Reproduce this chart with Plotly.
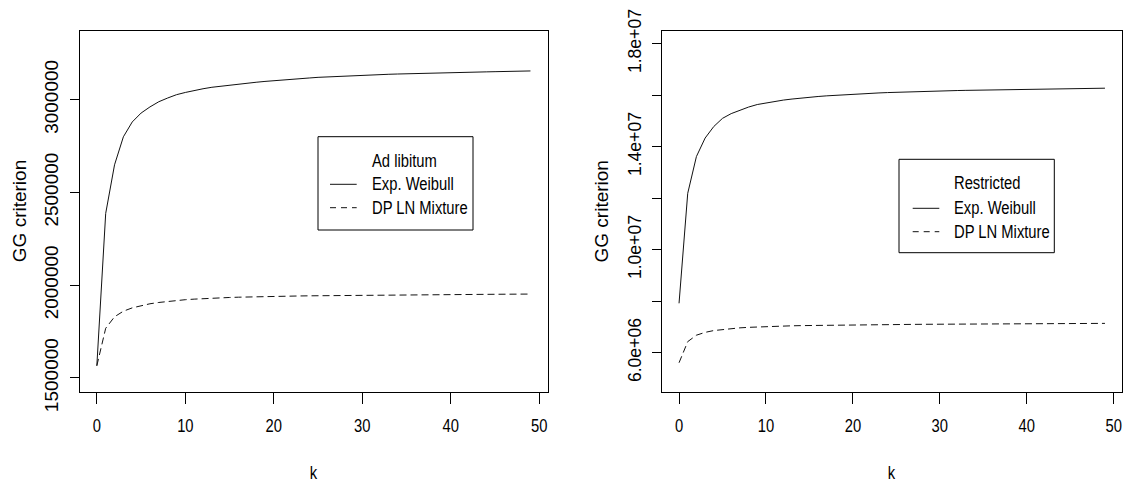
import plotly.graph_objects as go

# ---------------- data ----------------
k = list(range(50))

adlib_weibull = [1566000, 2387000, 2649000, 2800000, 2880000, 2928000, 2961000, 2989000, 3009000, 3027000,
                 3039000, 3050000, 3059000, 3067000, 3073000, 3079000, 3084500, 3089500, 3094000, 3098500,
                 3103000, 3107000, 3110500, 3114000, 3117000, 3120500, 3123000, 3125500, 3128000, 3130000,
                 3132000, 3134000, 3135500, 3137000, 3138500, 3140000, 3141000, 3142500, 3143500, 3144500,
                 3146000, 3147000, 3148000, 3149000, 3150000, 3151000, 3152000, 3153000, 3154000, 3155000]

adlib_dpln = [1566000, 1768000, 1830000, 1860000, 1878000, 1891000, 1900000, 1907000, 1913000, 1918000,
              1922000, 1925000, 1928000, 1930000, 1932000, 1934000, 1935500, 1937000, 1938000, 1939000,
              1940000, 1940800, 1941500, 1942200, 1942900, 1943500, 1944100, 1944700, 1945200, 1945700,
              1946200, 1946600, 1947000, 1947400, 1947800, 1948200, 1948500, 1948800, 1949100, 1949400,
              1949700, 1950000, 1950300, 1950600, 1950900, 1951200, 1951500, 1951800, 1952100, 1952400]

restr_weibull = [7918000, 12190000, 13618000, 14335000, 14785000, 15101000, 15285000, 15427000, 15540000, 15638000,
                 15700000, 15762000, 15810000, 15851000, 15890000, 15920000, 15950000, 15975000, 15998000, 16018000,
                 16036000, 16055000, 16072000, 16088000, 16102000, 16115000, 16127000, 16138000, 16148000, 16157000,
                 16166000, 16174000, 16181000, 16188000, 16194000, 16200000, 16206000, 16211000, 16216000, 16221000,
                 16226000, 16231000, 16236000, 16241000, 16246000, 16251000, 16256000, 16261000, 16266000, 16272000]

restr_dpln = [5610000, 6430000, 6680000, 6790000, 6860000, 6905000, 6940000, 6965000, 6985000, 7002000,
              7015000, 7027000, 7037000, 7045000, 7052000, 7058000, 7063000, 7068000, 7072000, 7076000,
              7080000, 7083000, 7086000, 7089000, 7092000, 7095000, 7097500, 7100000, 7102500, 7105000,
              7107000, 7109000, 7111000, 7113000, 7115000, 7117000, 7119000, 7120500, 7122000, 7123500,
              7125000, 7126500, 7128000, 7129500, 7131000, 7132500, 7134000, 7135500, 7137000, 7138500]

x_ticks = [0, 10, 20, 30, 40, 50]
x_ticklabels = ["0", "10", "20", "30", "40", "50"]
left_yticks = [1500000, 2000000, 2500000, 3000000]
left_yticklabels = ["1500000", "2000000", "2500000", "3000000"]
right_yticks = [6000000, 8000000, 10000000, 12000000, 14000000, 16000000, 18000000]
right_yticklabels = ["6.0e+06", "", "1.0e+07", "", "1.4e+07", "", "1.8e+07"]

legend_left = ["Ad libitum", "Exp. Weibull", "DP LN Mixture"]
legend_right = ["Restricted", "Exp. Weibull", "DP LN Mixture"]

# ---------------- layout geometry (pixels) ----------------
W, H = 1134, 487
FONT = "Liberation Sans, Arial, Helvetica, sans-serif"

def px(x):
    return x / W

def py(y):
    return 1 - y / H

top, bottom = 30.7, 391.7
L_dom = [px(79.5), px(547.8)]
R_dom = [px(662), px(1122)]
Y_dom = [py(bottom), py(top)]

DASH = "7px,4px"
LEG_DASH = "6px,5px"
LINECOL = "#111111"

fig = go.Figure()
fig.add_trace(go.Scatter(x=k, y=adlib_weibull, mode="lines", line=dict(color=LINECOL, width=1),
                         xaxis="x", yaxis="y", showlegend=False))
fig.add_trace(go.Scatter(x=k, y=adlib_dpln, mode="lines", line=dict(color=LINECOL, width=1, dash=DASH),
                         xaxis="x", yaxis="y", showlegend=False))
fig.add_trace(go.Scatter(x=k, y=restr_weibull, mode="lines", line=dict(color=LINECOL, width=1),
                         xaxis="x2", yaxis="y2", showlegend=False))
fig.add_trace(go.Scatter(x=k, y=restr_dpln, mode="lines", line=dict(color=LINECOL, width=1, dash=DASH),
                         xaxis="x2", yaxis="y2", showlegend=False))

xcommon = dict(range=[-1.96, 50.96], tickvals=x_ticks, ticktext=x_ticklabels, ticks="outside", ticklen=11.7,
               tickwidth=1, tickcolor="black", showline=True, mirror=True, linecolor="black", linewidth=1,
               showgrid=False, zeroline=False, tickfont=dict(family=FONT, size=18, color="black"),
               ticklabelstandoff=6, automargin=False)
ycommon = dict(ticks="outside", ticklen=8.6, tickwidth=1, tickcolor="black", showline=True, mirror=True,
               linecolor="black", linewidth=1, showgrid=False, zeroline=False, tickangle=-90,
               ticklabelstandoff=4, automargin=False)

fig.update_layout(
    width=W, height=H,
    margin=dict(l=0, r=0, t=0, b=0, autoexpand=False),
    paper_bgcolor="white", plot_bgcolor="white",
    xaxis=dict(domain=L_dom, anchor="y", **xcommon),
    yaxis=dict(domain=Y_dom, anchor="x", range=[1426100, 3371900], tickvals=left_yticks,
               ticktext=left_yticklabels, tickfont=dict(family=FONT, size=19, color="black"), **ycommon),
    xaxis2=dict(domain=R_dom, anchor="y2", **xcommon),
    yaxis2=dict(domain=Y_dom, anchor="x2", range=[4485400, 18504900], tickvals=right_yticks,
                ticktext=right_yticklabels, tickfont=dict(family=FONT, size=17.6, color="black"), **ycommon),
    showlegend=False,
)

annotations = []
shapes = []

# axis titles
for cx in [(79.5 + 547.8) / 2, (662 + 1122) / 2]:
    annotations.append(dict(text="k", x=px(cx), y=py(473), xref="paper", yref="paper",
                            showarrow=False, xanchor="center", yanchor="middle",
                            font=dict(family=FONT, size=18, color="black")))
for cx in [19.7, 601]:
    annotations.append(dict(text="GG criterion", x=px(cx), y=py(211.5), xref="paper", yref="paper",
                            showarrow=False, xanchor="center", yanchor="middle", textangle=-90,
                            font=dict(family=FONT, size=19, color="black")))

# legends (drawn as boxes with line samples and text)
def add_legend(box, line_x, text_x, rows, labels):
    x0, y0, x1, y1 = box
    shapes.append(dict(type="rect", xref="paper", yref="paper", x0=px(x0), x1=px(x1), y0=py(y1), y1=py(y0),
                       line=dict(color="black", width=1), fillcolor="white", layer="above"))
    for i, (lab, ry) in enumerate(zip(labels, rows)):
        annotations.append(dict(text=lab, x=px(text_x), y=py(ry), xref="paper", yref="paper",
                                showarrow=False, xanchor="left", yanchor="middle", align="left",
                                font=dict(family=FONT, size=18, color="black")))
        if i == 1:
            shapes.append(dict(type="line", xref="paper", yref="paper", x0=px(line_x[0]), x1=px(line_x[1]),
                               y0=py(ry), y1=py(ry), line=dict(color=LINECOL, width=1)))
        elif i == 2:
            shapes.append(dict(type="line", xref="paper", yref="paper", x0=px(line_x[0]), x1=px(line_x[1]),
                               y0=py(ry), y1=py(ry), line=dict(color=LINECOL, width=1, dash=LEG_DASH)))

add_legend((318, 136.7, 473, 230), (330, 356.7), 370, [160.7, 184.3, 207.7], legend_left)
add_legend((899, 159.3, 1054.3, 252.7), (912.7, 939.3), 952, [183.3, 208.3, 231.7], legend_right)

fig.update_layout(annotations=annotations, shapes=shapes)

# The original graphic has horizontally condensed lettering (like a narrow sans face);
# condense the horizontal texts with SVG textLength so they keep their real text.
condense_targets = set(x_ticklabels + ["k"] + legend_left + legend_right)
post_js = """
var gd = document.getElementById('{plot_id}');
var targets = %s;
function squeeze() {
  var texts = gd.querySelectorAll('text');
  texts.forEach(function (t) {
    if (t.getAttribute('data-sq')) return;
    var s = (t.textContent || '').trim();
    if (targets.indexOf(s) < 0) return;
    var L = t.getComputedTextLength();
    if (!L) return;
    t.setAttribute('textLength', (L * 0.82).toFixed(2));
    t.setAttribute('lengthAdjust', 'spacingAndGlyphs');
    t.setAttribute('data-sq', '1');
  });
}
squeeze();
setTimeout(squeeze, 30);
setTimeout(squeeze, 200);
if (gd.on) { gd.on('plotly_afterplot', squeeze); }
""" % (str(sorted(condense_targets)).replace("'", '"'))

fig.write_html("out.html", post_script=post_js)
